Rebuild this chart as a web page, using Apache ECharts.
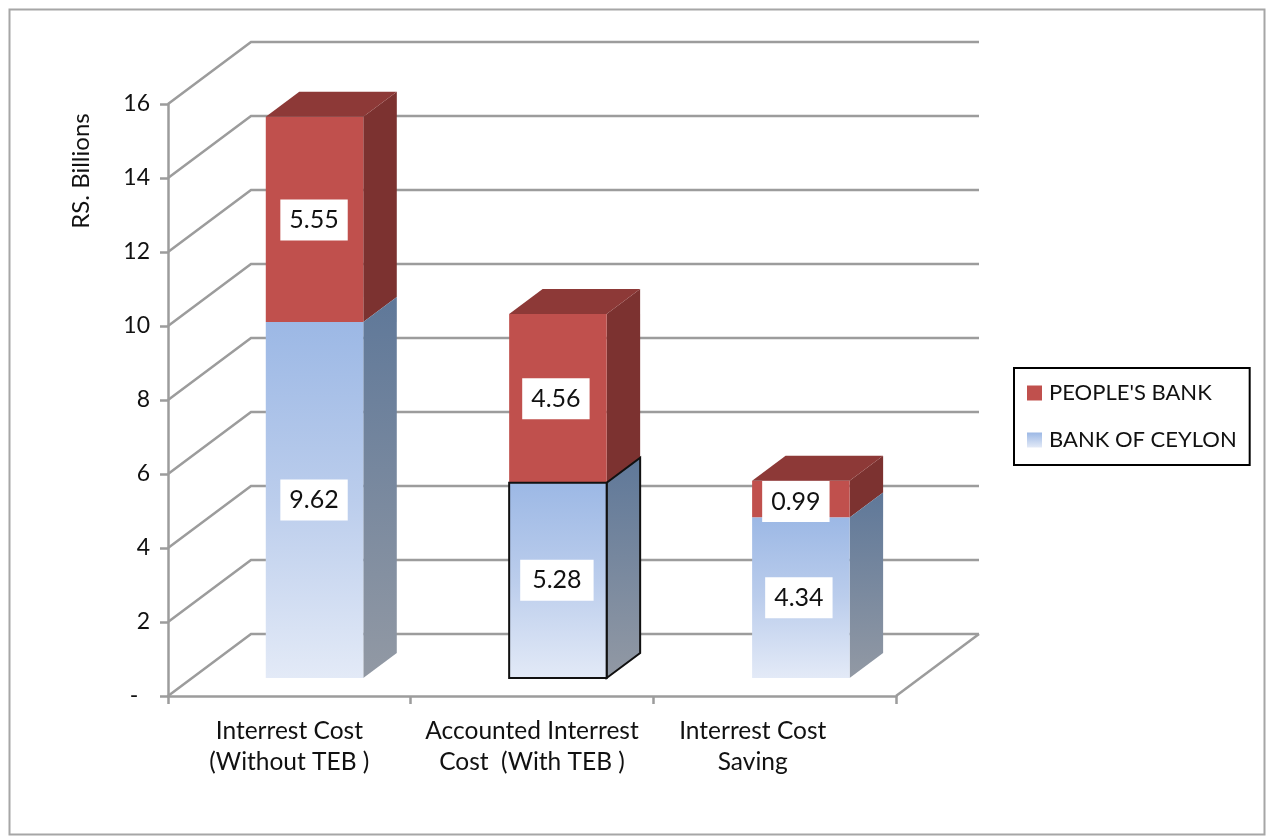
<!DOCTYPE html>
<html>
<head>
<meta charset="utf-8">
<style>html,body{margin:0;padding:0;background:#fff}#c{width:1283px;height:836px}</style>
<script src="https://cdn.jsdelivr.net/npm/echarts@6/dist/echarts.min.js"></script>
</head>
<body>
<div id="c"></div>
<script>
const categories = ['Interrest Cost\n(Without TEB )', 'Accounted Interrest\nCost  (With TEB )', 'Interrest Cost\nSaving'];
const bankOfCeylon = [9.62, 5.28, 4.34];
const peoplesBank = [5.55, 4.56, 0.99];
const yTicks = [0, 2, 4, 6, 8, 10, 12, 14, 16];
const seriesNames = ["PEOPLE'S BANK", 'BANK OF CEYLON'];

const FONT = 'Lato, "Open Sans", sans-serif';
const WALL = { dx: 83, dy: -62 };
const BAR = { shiftX: 25.2, shiftY: -18, width: 97.5, dx: 33.5, dy: -25 };
const GREY = '#9C9C9C';
const LINE_W = 2.5;
const barNudgeX = [0, 0.7, 1];
const blueFront = { type:'linear', x:0, y:0, x2:0, y2:1, colorStops:[{offset:0,color:'#9CB8E5'},{offset:0.5,color:'#BBCDEC'},{offset:1,color:'#E3EAF7'}] };
const blueSide = { type:'linear', x:0, y:0, x2:0, y2:1, colorStops:[{offset:0,color:'#5F7899'},{offset:1,color:'#9299A4'}] };
const themes = {
  [seriesNames[0]]: { front:'#C0504D', side:'#7C3230', top:'#8D3937' },
  [seriesNames[1]]: { front:blueFront, side:blueSide, top:'#5F7899' }
};

function barRender(name, outlinedIndex) {
  const th = themes[name];
  return function (params, api) {
    const i = api.value(0), base = api.value(1), val = api.value(2);
    const c0 = api.coord([i, base]), c1 = api.coord([i, base + val]);
    const l = c0[0] + BAR.shiftX + barNudgeX[i] - BAR.width / 2, r = l + BAR.width;
    const yb = c0[1] + BAR.shiftY, yt = c1[1] + BAR.shiftY;
    const line = outlinedIndex === i ? { stroke:'#111', lineWidth:2 } : { stroke:'none', lineWidth:0 };
    const kids = [
      { type:'polygon', shape:{ points:[[r,yb],[r+BAR.dx,yb+BAR.dy],[r+BAR.dx,yt+BAR.dy],[r,yt]] }, style:Object.assign({ fill:th.side }, line) },
      { type:'rect', shape:{ x:l, y:yt, width:BAR.width, height:yb-yt }, style:Object.assign({ fill:th.front }, line) }
    ];
    const isP = name === seriesNames[0];
    if (isP) {
      kids.push({ type:'polygon', shape:{ points:[[l,yt],[l+BAR.dx,yt+BAR.dy],[r+BAR.dx,yt+BAR.dy],[r,yt]] }, style:{ fill:th.top } });
    }
    const nx = isP ? [-0.5, -2, -5][i] : [-0.5, -1, -2][i];
    const ny = isP ? [0.5, 0.5, 2.5][i] : 0;
    kids.push({
      type:'text', z2:100,
      style:{
        text: val.toFixed(2), x:(l+r)/2+nx, y:(yb+yt)/2+ny, align:'center', verticalAlign:'middle',
        font:'25px ' + FONT, fill:'#111', backgroundColor:'#fff',
        padding: (!isP && i === 1) ? [8,12,8,12] : [8,9,8,9]
      }
    });
    return { type:'group', children:kids };
  };
}

function wallRender(params, api) {
  const cs = params.coordSys;
  const p = api.coord([0, api.value(1)]);
  const y = p[1], x0 = cs.x, xb = cs.x + WALL.dx, xe = cs.x + cs.width + WALL.dx;
  const kids = [{ type:'polyline', shape:{ points:[[x0,y],[xb,y+WALL.dy],[xe,y+WALL.dy]] }, style:{ fill:'none', stroke:GREY, lineWidth:LINE_W } }];
  if (api.value(1) === 0) {
    kids.push({ type:'line', shape:{ x1:cs.x+cs.width, y1:y, x2:xe, y2:y+WALL.dy }, style:{ stroke:GREY, lineWidth:LINE_W } });
  }
  return { type:'group', children:kids };
}

const chart = echarts.init(document.getElementById('c'), null, { renderer:'canvas' });
chart.setOption({
  animation:false,
  backgroundColor:'#fff',
  textStyle:{ fontFamily:FONT },
  graphic:[
    { type:'rect', left:7, top:7, shape:{ width:1255, height:825 }, style:{ fill:'none', stroke:'#A6A6A6', lineWidth:2 }, silent:true, z:-1 },
    { type:'text', x:81, y:171, rotation:Math.PI/2, style:{ text:'RS. Billions', font:'24px ' + FONT, fill:'#111', align:'center', verticalAlign:'middle' } }
  ],
  grid:{ left:168, top:104, width:728, height:592, containLabel:false },
  legend:{
    orient:'vertical', left:1014, top:368, padding:[14,13,14,13],
    borderColor:'#000', borderWidth:2, backgroundColor:'#fff',
    itemWidth:15, itemHeight:15, itemGap:25, icon:'rect',
    selectedMode:false,
    textStyle:{ fontFamily:FONT, fontSize:22, color:'#111', padding:[0,0,0,2] },
    data:[
      { name:seriesNames[0], icon:'rect', itemStyle:{ color:'#C0504D' } },
      { name:seriesNames[1], icon:'rect', itemStyle:{ color:{ type:'linear', x:0, y:0, x2:0, y2:1, colorStops:[{offset:0,color:'#9CB8E5'},{offset:1,color:'#E3EAF7'}] } } }
    ]
  },
  xAxis:{
    type:'category', data:categories,
    axisLine:{ lineStyle:{ color:GREY, width:LINE_W } },
    axisTick:{ show:true, length:8, lineStyle:{ color:GREY, width:LINE_W } },
    axisLabel:{
      color:'#111', fontFamily:FONT, fontSize:24.5, lineHeight:31, margin:20, interval:0,
      formatter:(v, i) => i === 2 ? v.split('\n').map(s => s + '\u00a0'.repeat(7)).join('\n') : v
    }
  },
  yAxis:{
    type:'value', min:0, max:16, interval:2,
    axisLine:{ show:true, lineStyle:{ color:GREY, width:LINE_W } },
    axisTick:{ show:true, length:8, lineStyle:{ color:GREY, width:LINE_W } },
    splitLine:{ show:false },
    axisLabel:{ color:'#111', fontFamily:FONT, fontSize:23, margin:18, padding:[2,0,0,0], formatter:v => v === 0 ? '-\u00a0\u00a0' : String(v) }
  },
  series:[
    { name:'grid walls', type:'custom', silent:true, z:1, renderItem:wallRender, encode:{ x:0, y:1 }, data:yTicks.map(t => [0, t]) },
    { name:seriesNames[0], type:'custom', z:2, renderItem:barRender(seriesNames[0], -1), encode:{ x:0, y:1 },
      data:peoplesBank.map((v,i) => [i, bankOfCeylon[i], v]) },
    { name:seriesNames[1], type:'custom', z:2, renderItem:barRender(seriesNames[1], 1), encode:{ x:0, y:1 },
      data:bankOfCeylon.map((v,i) => [i, 0, v]) }
  ]
});
</script>
</body>
</html>
